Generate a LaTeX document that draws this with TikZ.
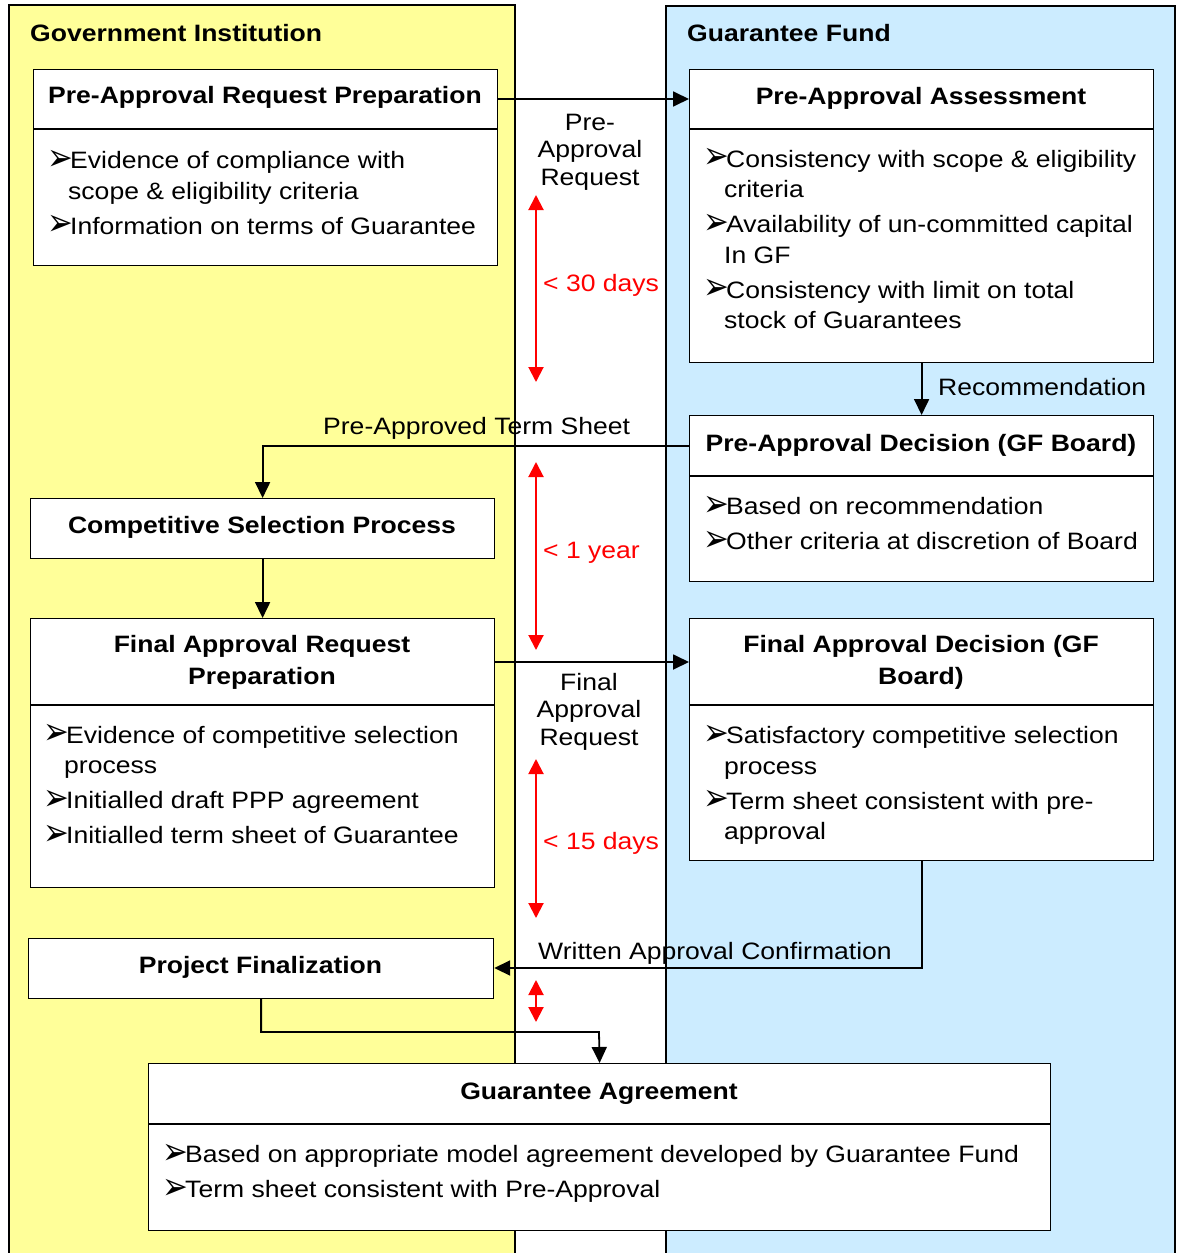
\documentclass[tikz,border=0pt]{standalone}
\usepackage{graphicx}
\usepackage{fontspec}
\setmainfont{Liberation Sans}[FakeStretch=1.12]
\newfontfamily\dvfont{DejaVu Sans}
\usetikzlibrary{arrows.meta}

\definecolor{laneyellow}{HTML}{FFFF99}
\definecolor{laneblue}{HTML}{CCECFF}
\definecolor{spanred}{HTML}{FF0000}

% bullet arrow and continuation indent for item lists
\newcommand\bul{\makebox[23pt][l]{\raisebox{-1.5pt}{\scalebox{1.3}[1.6]{\dvfont ➢}}}}
\newcommand\cont{\hspace*{21pt}}

\begin{document}
\begin{tikzpicture}[x=1pt,y=-1pt,
  every node/.style={font=\fontsize{23.7}{30.5}\selectfont},
  lane/.style={draw=black,line width=1.6pt},
  box/.style={draw=black,fill=white,line width=1.2pt,anchor=north west,inner sep=0pt},
  divider/.style={draw=black,line width=1.2pt},
  % multi-line nodes are placed by the baseline of their last line
  title/.style={anchor=base,inner sep=0pt,font=\fontsize{23.7}{32}\selectfont\bfseries,align=center},
  body/.style={anchor=base west,inner sep=0pt,align=left},
  lbl/.style={anchor=base west,inner sep=0pt},
  midlbl/.style={anchor=base,inner sep=0pt,align=center,font=\fontsize{23.7}{27.5}\selectfont},
  redlbl/.style={anchor=base west,inner sep=0pt,text=spanred},
  conn/.style={draw=black,line width=1.8pt,-{Triangle[length=16pt,width=15pt]}},
  span/.style={draw=spanred,line width=2pt,{Triangle[length=15pt,width=15pt]}-{Triangle[length=15pt,width=15pt]}}
]
% page
\useasboundingbox[fill=white] (0,0) rectangle (1177,1253);

% swimlanes
\fill[laneyellow] (9,5) rectangle (515,1262);
\draw[lane] (9,1262) -- (9,5) -- (515,5) -- (515,1262);
\fill[laneblue] (666,6) rectangle (1175,1262);
\draw[lane] (666,1262) -- (666,6) -- (1175,6) -- (1175,1262);
\node[lbl,font=\fontsize{23.7}{30.5}\selectfont\bfseries] (gi) at (30,41) {Government Institution};
\node[lbl,font=\fontsize{23.7}{30.5}\selectfont\bfseries] (gf) at (687,41.5) {Guarantee Fund};

% boxes
\node[box,minimum width=464pt,minimum height=196pt] (a) at (33,69) {};
\node[box,minimum width=464pt,minimum height=293pt] (b) at (689,69) {};
\node[box,minimum width=464pt,minimum height=166pt] (c) at (689,415) {};
\node[box,minimum width=464pt,minimum height=60pt] (d) at (30,498) {};
\node[box,minimum width=464pt,minimum height=269pt] (e) at (30,618) {};
\node[box,minimum width=464pt,minimum height=242pt] (f) at (689,618) {};
\node[box,minimum width=465pt,minimum height=60pt] (g) at (28,938) {};
\node[box,minimum width=902pt,minimum height=167pt] (h) at (148,1063) {};

% header dividers
\draw[divider] (a.west |- 0,129) -- (a.east |- 0,129);
\draw[divider] (b.west |- 0,129) -- (b.east |- 0,129);
\draw[divider] (c.west |- 0,476) -- (c.east |- 0,476);
\draw[divider] (e.west |- 0,705) -- (e.east |- 0,705);
\draw[divider] (f.west |- 0,705) -- (f.east |- 0,705);
\draw[divider] (h.west |- 0,1124) -- (h.east |- 0,1124);

% titles
\node[title] (at) at (265,103.5) {Pre-Approval Request Preparation};
\node[title] (bt) at (921,104) {Pre-Approval Assessment};
\node[title] (ct) at (921,451) {Pre-Approval Decision (GF Board)};
\node[title] (dt) at (262,533) {Competitive Selection Process};
\node[title] (et) at (262,684) {Final Approval Request\\Preparation};
\node[title] (ft) at (921,684) {Final Approval Decision (GF\\Board)};
\node[title] (gt) at (260.5,973) {Project Finalization};
\node[title] (ht) at (599,1099) {Guarantee Agreement};

% item lists
\node[body] (ab) at (47,234) {\bul Evidence of compliance with\\\cont scope \& eligibility criteria\\[4.5pt]\bul Information on terms of Guarantee};
\node[body] (bb) at (703,328.5) {\bul Consistency with scope \& eligibility\\\cont criteria\\[4.5pt]\bul Availability of un-committed capital\\\cont In GF\\[4.5pt]\bul Consistency with limit on total\\\cont stock of Guarantees};
\node[body] (cb) at (703,549.5) {\bul Based on recommendation\\[4.5pt]\bul Other criteria at discretion of Board};
\node[body] (eb) at (43,843.5) {\bul Evidence of competitive selection\\\cont process\\[4.5pt]\bul Initialled draft PPP agreement\\[4.5pt]\bul Initialled term sheet of Guarantee};
\node[body] (fb) at (703,839.5) {\bul Satisfactory competitive selection\\\cont process\\[4.5pt]\bul Term sheet consistent with pre-\\\cont approval};
\node[body] (hb) at (162,1197.5) {\bul Based on appropriate model agreement developed by Guarantee Fund\\[4.5pt]\bul Term sheet consistent with Pre-Approval};

% flow connectors
\draw[conn] (a.east |- 0,99) -- (b.west |- 0,99);
\draw[conn] (b.south) -- (c.north);
\draw[conn] (c.west |- 0,446) -| (d.north);
\draw[conn] (d.south) -- (e.north);
\draw[conn] (e.east |- 0,662) -- (f.west |- 0,662);
\draw[conn] (f.south) |- (g.east |- 0,968);
\coordinate (gh) at (599,1032);
\draw[conn] (g.south) |- (gh) -- (h.north);

% connector labels
\node[midlbl] (l1) at (590,185) {Pre-\\Approval\\Request};
\node[lbl] (l2) at (938,395) {Recommendation};
\node[lbl] (l3) at (323,434) {Pre-Approved Term Sheet};
\node[midlbl] (l4) at (589,745) {Final\\Approval\\Request};
\node[lbl] (l5) at (538,959) {Written Approval Confirmation};

% time spans
\coordinate (s1a) at (536,195);  \coordinate (s1b) at (536,382);
\coordinate (s2a) at (536,462);  \coordinate (s2b) at (536,650);
\coordinate (s3a) at (536,759);  \coordinate (s3b) at (536,918);
\coordinate (s4a) at (536,980);  \coordinate (s4b) at (536,1022);
\draw[span] (s1a) -- (s1b);
\draw[span] (s2a) -- (s2b);
\draw[span] (s3a) -- (s3b);
\draw[span] (s4a) -- (s4b);
\node[redlbl] (r1) at (543,291) {< 30 days};
\node[redlbl] (r2) at (543,558) {< 1 year};
\node[redlbl] (r3) at (543,849) {< 15 days};
\end{tikzpicture}
\end{document}
